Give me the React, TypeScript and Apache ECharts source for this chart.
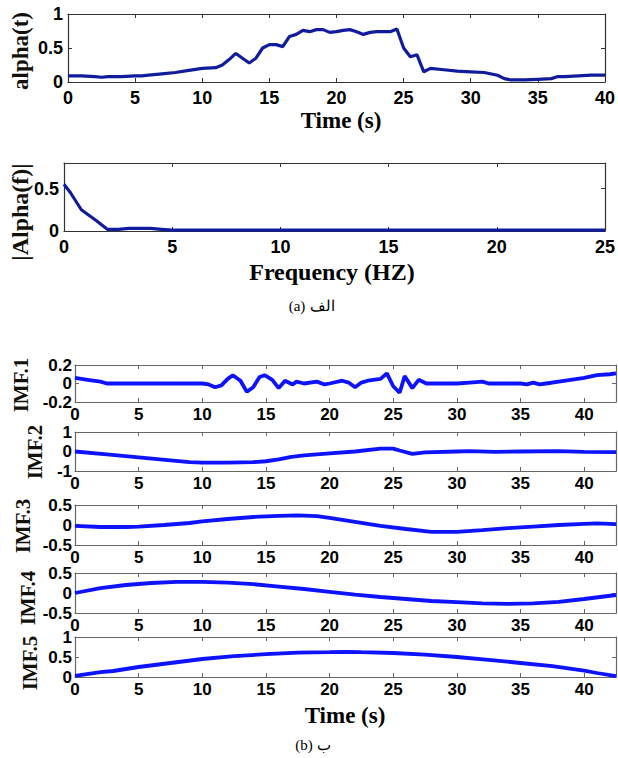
import React, { useEffect, useRef } from "react";
import * as echarts from "echarts";

// ---- Data ----
const alphaTime = [0, 1, 2, 2.5, 3, 4, 5, 5.5, 6, 7, 8, 9, 10, 11, 11.5, 12, 12.5, 13, 13.5, 14, 14.5, 15, 15.5, 16, 16.5, 17, 17.5, 18, 18.5, 19, 19.5, 20, 20.5, 21, 21.5, 22, 22.5, 23, 24, 24.5, 25, 25.5, 26, 26.5, 27, 28, 29, 30, 31, 32, 32.5, 33, 34, 35, 36, 36.5, 37, 38, 39, 40];
const alphaValues = [0.09, 0.09, 0.08, 0.07, 0.08, 0.08, 0.09, 0.09, 0.1, 0.12, 0.14, 0.17, 0.2, 0.21, 0.25, 0.33, 0.42, 0.35, 0.28, 0.35, 0.5, 0.55, 0.55, 0.52, 0.67, 0.7, 0.76, 0.74, 0.77, 0.77, 0.73, 0.74, 0.76, 0.77, 0.74, 0.7, 0.73, 0.74, 0.74, 0.78, 0.5, 0.37, 0.4, 0.15, 0.2, 0.18, 0.16, 0.15, 0.14, 0.1, 0.05, 0.03, 0.03, 0.04, 0.05, 0.08, 0.08, 0.09, 0.1, 0.1];

const freqHz = [0, 0.3, 0.8, 1.5, 2, 2.5, 3, 4, 4.5, 5, 6, 8, 10, 12, 15, 18, 21, 25];
const freqValues = [0.55, 0.45, 0.25, 0.12, 0.02, 0.02, 0.03, 0.03, 0.02, 0.01, 0.01, 0.01, 0.01, 0.01, 0.01, 0.01, 0.01, 0.01];

const imf1T = [0, 1, 2, 2.5, 5, 10, 10.5, 11, 11.5, 12, 12.4, 13, 13.5, 14, 14.5, 14.9, 15.5, 16, 16.5, 17.1, 17.4, 18, 19, 19.6, 20, 21, 21.5, 22, 22.5, 23, 24, 24.5, 25, 25.5, 25.9, 26.5, 27, 27.6, 30, 31, 32, 32.5, 33, 35, 35.5, 36, 36.5, 37, 38, 40, 41, 42, 42.5];
const imf1V = [0.06, 0.04, 0.02, 0.0, 0.0, 0.0, -0.01, -0.04, -0.02, 0.05, 0.09, 0.03, -0.09, -0.04, 0.07, 0.09, 0.04, -0.05, 0.03, -0.01, 0.02, 0.0, 0.02, -0.01, 0.0, 0.03, 0.01, -0.04, 0.01, 0.03, 0.05, 0.11, -0.03, -0.1, 0.08, -0.05, 0.04, 0.0, 0.0, 0.01, 0.02, 0.0, 0.0, 0.0, -0.01, 0.01, -0.01, 0.0, 0.02, 0.06, 0.09, 0.1, 0.11];

const imf2T = [0, 2.5, 5, 7.5, 9, 10, 12, 14, 15, 16, 17, 18, 20, 22, 24, 25, 25.5, 26.5, 27.5, 30, 31, 33, 35, 38, 40, 42.5];
const imf2V = [0.0, -0.15, -0.3, -0.45, -0.55, -0.57, -0.57, -0.55, -0.5, -0.4, -0.27, -0.2, -0.1, 0.0, 0.15, 0.15, 0.05, -0.12, -0.05, 0.0, 0.02, -0.02, 0.0, 0.02, -0.02, -0.03];

const imf3T = [0, 2, 4, 5, 7, 9, 10, 12, 14, 16, 17.5, 19, 20, 22, 24, 26, 28, 30, 32, 34, 36, 38, 40, 41, 42.5];
const imf3V = [-0.02, -0.05, -0.05, -0.04, 0.0, 0.05, 0.09, 0.15, 0.2, 0.23, 0.24, 0.22, 0.18, 0.08, -0.02, -0.1, -0.17, -0.17, -0.13, -0.08, -0.04, 0.0, 0.03, 0.04, 0.02];

const imf4T = [0, 2, 4, 6, 8, 10, 12, 14, 16, 18, 20, 22, 24, 26, 28, 30, 32, 34, 36, 38, 40, 42.5];
const imf4V = [0.0, 0.12, 0.2, 0.25, 0.28, 0.28, 0.26, 0.22, 0.16, 0.1, 0.03, -0.04, -0.1, -0.15, -0.2, -0.23, -0.26, -0.27, -0.26, -0.22, -0.15, -0.05];

const imf5T = [0, 2, 3, 5, 7.5, 10, 12.5, 15, 17.5, 20, 21.3, 22.5, 25, 27.5, 30, 32.5, 35, 37.5, 40, 41, 42.5];
const imf5V = [0.03, 0.12, 0.15, 0.25, 0.35, 0.45, 0.52, 0.57, 0.61, 0.62, 0.63, 0.62, 0.6, 0.56, 0.5, 0.43, 0.35, 0.27, 0.16, 0.1, 0.02];

const imfNames = ["IMF.1", "IMF.2", "IMF.3", "IMF.4", "IMF.5"];

const pairs = (xs: number[], ys: number[]) => xs.map((x, i) => [x, ys[i]]);

const SERIF = "'Liberation Serif', 'Times New Roman', serif";
const SANS = "'Liberation Sans', Arial, sans-serif";

export default function App() {
  const ref = useRef<HTMLDivElement>(null);
  useEffect(() => {
    if (!ref.current) return;
    const chart = echarts.init(ref.current, null, { renderer: "svg" });

    const grids: any[] = [];
    const xAxes: any[] = [];
    const yAxes: any[] = [];
    const series: any[] = [];

    const fmt = (step: number) => (v: number) =>
      Math.abs(v / step - Math.round(v / step)) < 1e-6 ? String(+v.toFixed(2)) : "";

    const addPanel = (
      rect: { left: number; top: number; width: number; height: number },
      x: [number, number, number],
      y: [number, number, number],
      data: number[][],
      color: string,
      axisColor: string,
      lw: number,
      xMargin: number,
      yMargin: number,
      fontSize: number
    ) => {
      const gi = grids.length;
      grids.push({ ...rect, show: false, containLabel: false });
      const common = (min: number, max: number, step: number) => ({
        type: "value",
        gridIndex: gi,
        min,
        max,
        interval: step,
        splitLine: { show: false },
        axisLine: { show: true, onZero: false, lineStyle: { color: axisColor, width: 1.2 } },
        axisTick: { show: true, inside: true, length: 4, lineStyle: { color: axisColor, width: 1 } },
      });
      const xi = xAxes.length;
      xAxes.push({
        ...common(x[0], x[1], x[2]),
        position: "bottom",
        axisLabel: {
          show: true,
          margin: xMargin,
          color: "#000",
          fontFamily: SANS,
          fontWeight: "bold",
          fontSize,
          formatter: fmt(x[2]),
          showMaxLabel: Math.abs(x[1] / x[2] - Math.round(x[1] / x[2])) < 1e-6,
        },
      });
      xAxes.push({ ...common(x[0], x[1], x[2]), position: "top", axisLabel: { show: false } });
      const yi = yAxes.length;
      yAxes.push({
        ...common(y[0], y[1], y[2]),
        position: "left",
        axisLabel: {
          show: true,
          margin: yMargin,
          color: "#000",
          fontFamily: SANS,
          fontWeight: "bold",
          fontSize,
          formatter: fmt(y[2]),
        },
      });
      yAxes.push({ ...common(y[0], y[1], y[2]), position: "right", axisLabel: { show: false } });
      series.push({
        type: "line",
        xAxisIndex: xi,
        yAxisIndex: yi,
        data,
        showSymbol: false,
        symbol: "none",
        smooth: false,
        lineStyle: { color, width: lw },
        itemStyle: { color },
      });
    };

    const navy = "#111c9c";
    const blue = "#0d12ff";

    addPanel({ left: 68, top: 14, width: 540, height: 68 }, [0, 40, 5], [0, 1, 0.5], pairs(alphaTime, alphaValues), navy, "#333", 3.2, 7, 5, 18);
    addPanel({ left: 64, top: 163, width: 541, height: 68 }, [0, 25, 5], [0, 0.8, 0.5], pairs(freqHz, freqValues), navy, "#333", 3.2, 7, 5, 18);

    const imfData = [pairs(imf1T, imf1V), pairs(imf2T, imf2V), pairs(imf3T, imf3V), pairs(imf4T, imf4V), pairs(imf5T, imf5V)];
    const imfY: [number, number, number][] = [
      [-0.2, 0.2, 0.2],
      [-1, 1, 1],
      [-0.5, 0.5, 0.5],
      [-0.5, 0.5, 0.5],
      [0, 1, 0.5],
    ];
    const imfRects = [
      { top: 365, height: 37 },
      { top: 432, height: 39 },
      { top: 505, height: 40 },
      { top: 573, height: 40 },
      { top: 637, height: 40 },
    ];
    imfRects.forEach((r, i) => {
      addPanel({ left: 75, top: r.top, width: 541, height: r.height }, [0, 42.5, 5], imfY[i], imfData[i], blue, "#666", 3.8, 4, 3, 17);
    });

    const vText = (text: string, x: number, y: number, size: number) => ({
      type: "text",
      x,
      y,
      rotation: Math.PI / 2,
      style: {
        text,
        fill: "#14100a",
        font: `bold ${size}px ${SERIF}`,
        textAlign: "center",
        textVerticalAlign: "middle",
      },
    });
    const hText = (text: string, x: number, y: number, size: number, bold = true) => ({
      type: "text",
      x,
      y,
      style: {
        text,
        fill: "#000",
        font: `${bold ? "bold " : ""}${size}px ${SERIF}`,
        textAlign: "center",
        textVerticalAlign: "middle",
      },
    });

    const imfTitlePos = [
      [21, 385],
      [35, 452],
      [23, 526],
      [28, 598],
      [30, 663],
    ];

    const graphic: any[] = [
      vText("alpha(t)", 20, 51, 23),
      hText("Time (s)", 341, 120, 23),
      vText("|Alpha(f)|", 20, 212, 24),
      hText("Frequency (HZ)", 332, 272, 24),
      hText("(a)", 297, 306, 15, false),
      hText("الف", 322, 306, 15, false),
      ...imfNames.map((n, i) => vText(n, imfTitlePos[i][0], imfTitlePos[i][1], 21)),
      hText("Time (s)", 345, 715, 23),
      hText("(b)", 304, 745, 15, false),
      hText("ب", 324, 745, 15, false),
    ];

    chart.setOption({
      animation: false,
      backgroundColor: "#fff",
      grid: grids,
      xAxis: xAxes,
      yAxis: yAxes,
      series,
      graphic,
    });
    return () => chart.dispose();
  }, []);

  return (
    <div
      ref={ref}
      style={{ position: "fixed", left: 0, top: 0, width: 618, height: 758, background: "#fff" }}
    />
  );
}
